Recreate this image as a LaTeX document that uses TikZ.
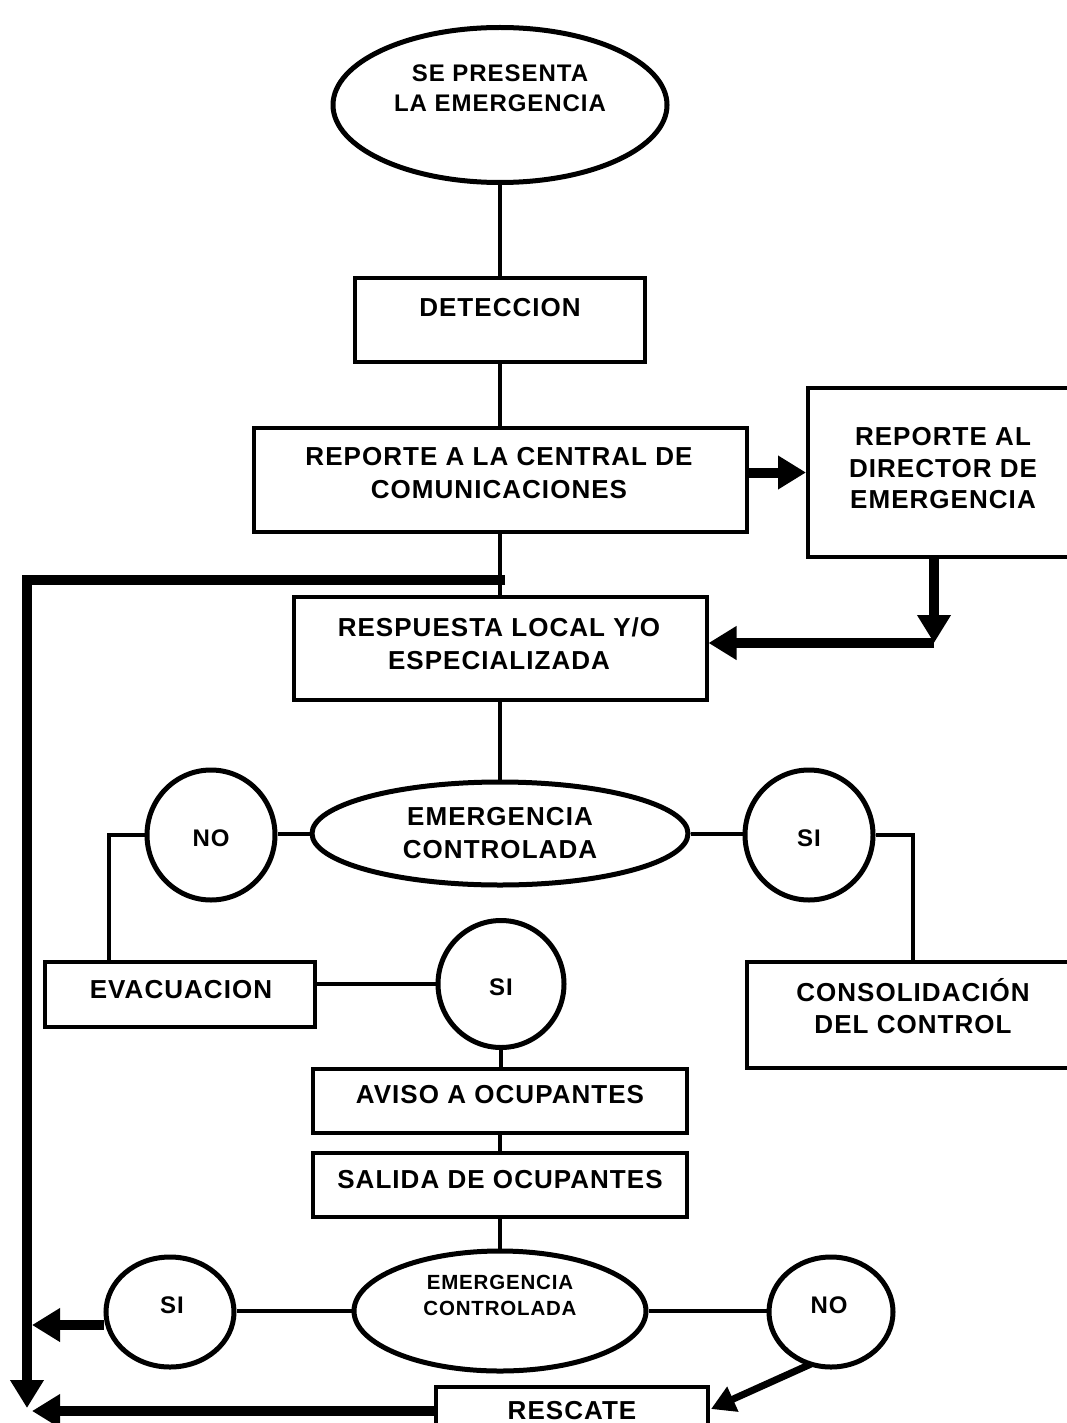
\documentclass[tikz,border=0pt]{standalone}
\usepackage{fontspec}
\setmainfont{Liberation Sans}
\newfontfamily\spacedfont[LetterSpace=4]{Liberation Sans}
\usetikzlibrary{shapes.geometric,arrows.meta,calc}
\begin{document}
\begin{tikzpicture}[x=1pt,y=-1pt,
  box/.style={draw,line width=4pt,rectangle,inner sep=0pt},
  oval/.style={draw,line width=5pt,ellipse,inner sep=0pt},
  txt/.style={font=\spacedfont\bfseries\fontsize{26}{33}\selectfont,align=center,inner sep=0pt},
  txtc/.style={font=\spacedfont\bfseries\fontsize{24}{30}\selectfont,align=center,inner sep=0pt},
  txts/.style={font=\spacedfont\bfseries\fontsize{20.5}{26}\selectfont,align=center,inner sep=0pt},
  thinline/.style={line width=4pt},
  heavy/.style={line width=10pt,-{Triangle[length=28pt,width=32pt]}},
]
\useasboundingbox (0,0) rectangle (1067,1423);
\clip (0,0) rectangle (1067,1423);
\fill[white] (0,0) rectangle (1067,1423);

% shapes
\node[oval,minimum width=334pt,minimum height=155pt] (e0) at (500,105) {};
\node[txtc] at (500,88) {SE PRESENTA\\LA EMERGENCIA};

\node[box,minimum width=290pt,minimum height=84pt] (det) at (500,320) {};
\node[txt] at (500,308) {DETECCION};

\node[box,minimum width=493pt,minimum height=104pt] (rep) at (500,480) {};
\node[txt] at (499,473.5) {REPORTE A LA CENTRAL DE\\COMUNICACIONES};

\node[box,minimum width=267pt,minimum height=169pt] (dir) at (941.5,472.5) {};
\node[txt,font=\spacedfont\bfseries\fontsize{26}{31.5}\selectfont] at (943,468.5) {REPORTE AL\\DIRECTOR DE\\EMERGENCIA};

\node[box,minimum width=413pt,minimum height=103pt] (res) at (500,648.5) {};
\node[txt] at (499,643.5) {RESPUESTA LOCAL Y/O\\ESPECIALIZADA};

\node[oval,minimum width=376pt,minimum height=103pt] (e1) at (500,833.5) {};
\node[txt] at (500,833.5) {EMERGENCIA\\CONTROLADA};

\node[oval,minimum width=128pt,minimum height=130pt] (no1) at (211,835) {};
\node[txtc] at (211,838) {NO};
\node[oval,minimum width=128pt,minimum height=130pt] (si1) at (809,835) {};
\node[txtc] at (809,838) {SI};

\node[box,minimum width=270pt,minimum height=65pt] (evac) at (180,994.5) {};
\node[txt] at (181,990) {EVACUACION};

\node[box,minimum width=328pt,minimum height=106pt] (cons) at (911,1015) {};
\node[txt,font=\spacedfont\bfseries\fontsize{26}{32}\selectfont] at (913,1006) {CONSOLIDACIÓN\\DEL CONTROL};

\node[oval,minimum width=126pt,minimum height=127pt] (si2) at (501,984) {};
\node[txtc] at (501,987) {SI};

\node[box,minimum width=374pt,minimum height=64pt] (avi) at (500,1101) {};
\node[txt] at (500,1095) {AVISO A OCUPANTES};

\node[box,minimum width=374pt,minimum height=64pt] (sal) at (500,1185) {};
\node[txt] at (500,1180) {SALIDA DE OCUPANTES};

\node[oval,minimum width=292pt,minimum height=120pt] (e2) at (500,1311) {};
\node[txts] at (500,1295) {EMERGENCIA\\CONTROLADA};

\node[oval,minimum width=128pt,minimum height=110pt] (si3) at (170,1312) {};
\node[txtc] at (172,1305) {SI};
\node[oval,minimum width=124pt,minimum height=110pt] (no3) at (831,1312) {};
\node[txtc] at (829,1305) {NO};

\node[box,minimum width=272pt,minimum height=72pt] (resc) at (572,1423) {};
\node[txt] at (572,1411) {RESCATE};

% helper coordinates
\coordinate (dc) at (934,643);
\coordinate (br) at (505,580);
\coordinate (lc) at (27,580);
\coordinate (lb) at (27,1408);
\coordinate (nl) at (109,835);
\coordinate (sr) at (913,835);
\coordinate (la) at (32,1325);
\coordinate (lb2) at (32,1411);
\coordinate (rt) at (711,1409);
\coordinate (ns) at (811,1364);

% thin connectors
\draw[thinline] (e0.south) -- (det.north);
\draw[thinline] (det.south) -- (rep.north);
\draw[thinline] (rep.south) -- (res.north);
\draw[thinline] (res.south) -- (e1.north);
\draw[thinline] (e1.west) -- (e1.west -| no1.east);
\draw[thinline] (e1.east) -- (e1.east -| si1.west);
\draw[thinline] (no1.west) -| (evac.north -| nl);
\draw[thinline] (si1.east) -| (cons.north -| sr);
\draw[thinline] (evac.east |- si2.west) -- (si2.west);
\draw[thinline] (si2.south) -- (si2.south |- avi.north);
\draw[thinline] (avi.south) -- (sal.north);
\draw[thinline] (sal.south) -- (e2.north);
\draw[thinline] (e2.west) -- (e2.west -| si3.east);
\draw[thinline] (e2.east) -- (e2.east -| no3.west);

% heavy connectors
\draw[heavy] (rep.east |- dir.west) -- (dir.west);
\draw[heavy] (dir.south -| dc) -- (dc);
\draw[heavy] (dc) -- (res.east |- dc);
\draw[heavy] (br) -- (lc) -- (lb);
\draw[heavy] (si3.west |- la) -- (la);
\draw[heavy] (resc.west |- lb2) -- (lb2);
\draw[line width=7pt,-{Triangle[length=24pt,width=26pt]}] (ns) -- (rt);
\end{tikzpicture}
\end{document}
